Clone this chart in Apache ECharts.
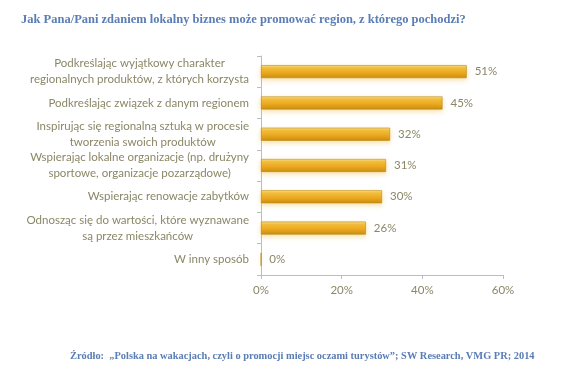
<!DOCTYPE html>
<html><head><meta charset="utf-8">
<script src="https://cdn.jsdelivr.net/npm/echarts@6/dist/echarts.min.js"></script>
<style>html,body{margin:0;padding:0;background:#fff}#c{width:580px;height:373px}</style>
</head><body><div id="c"></div>
<script>
const categories = [
  "Podkreślając wyjątkowy charakter\nregionalnych produktów, z których korzysta",
  "Podkreślając związek z danym regionem",
  "Inspirując się regionalną sztuką w procesie\ntworzenia swoich produktów",
  "Wspierając lokalne organizacje (np. drużyny\nsportowe, organizacje pozarządowe)",
  "Wspierając renowacje zabytków",
  "Odnosząc się do wartości, które wyznawane\nsą przez mieszkańców",
  "W inny sposób"
];
const values = [51, 45, 32, 31, 30, 26, 0];
const xTicks = [0, 20, 40, 60];
const titleText = "Jak Pana/Pani zdaniem lokalny biznes może promować region, z którego pochodzi?";
const sourceText = "Źródło:  „Polska na wakacjach, czyli o promocji miejsc oczami turystów”; SW Research, VMG PR; 2014";

const chart = echarts.init(document.getElementById('c'), null, {renderer: 'canvas'});
const labelColor = '#8a8766';
chart.setOption({
  animation: false,
  title: [
    {text: titleText, left: 16, top: 8,
     textStyle: {fontFamily: 'Liberation Serif', fontWeight: 'bold', fontSize: 12.5, color: '#5a7db4'}},
    {text: sourceText, left: 65, top: 346,
     textStyle: {fontFamily: 'Liberation Serif', fontWeight: 'bold', fontSize: 10.4, color: '#5a7db4'}}
  ],
  grid: {left: 261, right: 77, top: 56, bottom: 98, containLabel: false},
  xAxis: {
    type: 'value', min: xTicks[0], max: xTicks[xTicks.length - 1], interval: 20,
    axisLine: {show: true, lineStyle: {color: '#bdbdbd'}},
    axisTick: {show: true, length: 4, lineStyle: {color: '#bdbdbd'}},
    splitLine: {show: false},
    axisLabel: {formatter: v => v + '%', color: labelColor, fontFamily: 'Lato', fontSize: 11.5, margin: 9}
  },
  yAxis: {
    type: 'category', data: categories, inverse: true,
    axisLine: {show: true, lineStyle: {color: '#bdbdbd'}},
    axisTick: {show: true, length: 4, lineStyle: {color: '#bdbdbd'}},
    axisLabel: {
      margin: 12, color: labelColor, fontFamily: 'Lato', fontSize: 11.5, lineHeight: 16,
      formatter: v => v.split('\n').map(s => '{c|' + s + '}').join('\n'),
      rich: {c: {align: 'center', color: labelColor, fontFamily: 'Lato', fontSize: 11.5, lineHeight: 16}}
    }
  },
  series: [{
    type: 'bar', data: values, barWidth: 13,
    itemStyle: {
      color: new echarts.graphic.LinearGradient(0, 0, 0, 1, [
        {offset: 0, color: '#fbe49a'},
        {offset: 0.2, color: '#f3be3c'},
        {offset: 0.6, color: '#eaa81e'},
        {offset: 1, color: '#c98c12'}
      ]),
      borderColor: '#b8860f', borderWidth: 0.6,
      shadowBlur: 5, shadowColor: 'rgba(240,190,70,0.45)', shadowOffsetY: 2
    },
    label: {show: true, position: 'right', distance: 8, formatter: p => p.value + '%',
      color: labelColor, fontFamily: 'Lato', fontSize: 11.5}
  }]
});
</script></body></html>
